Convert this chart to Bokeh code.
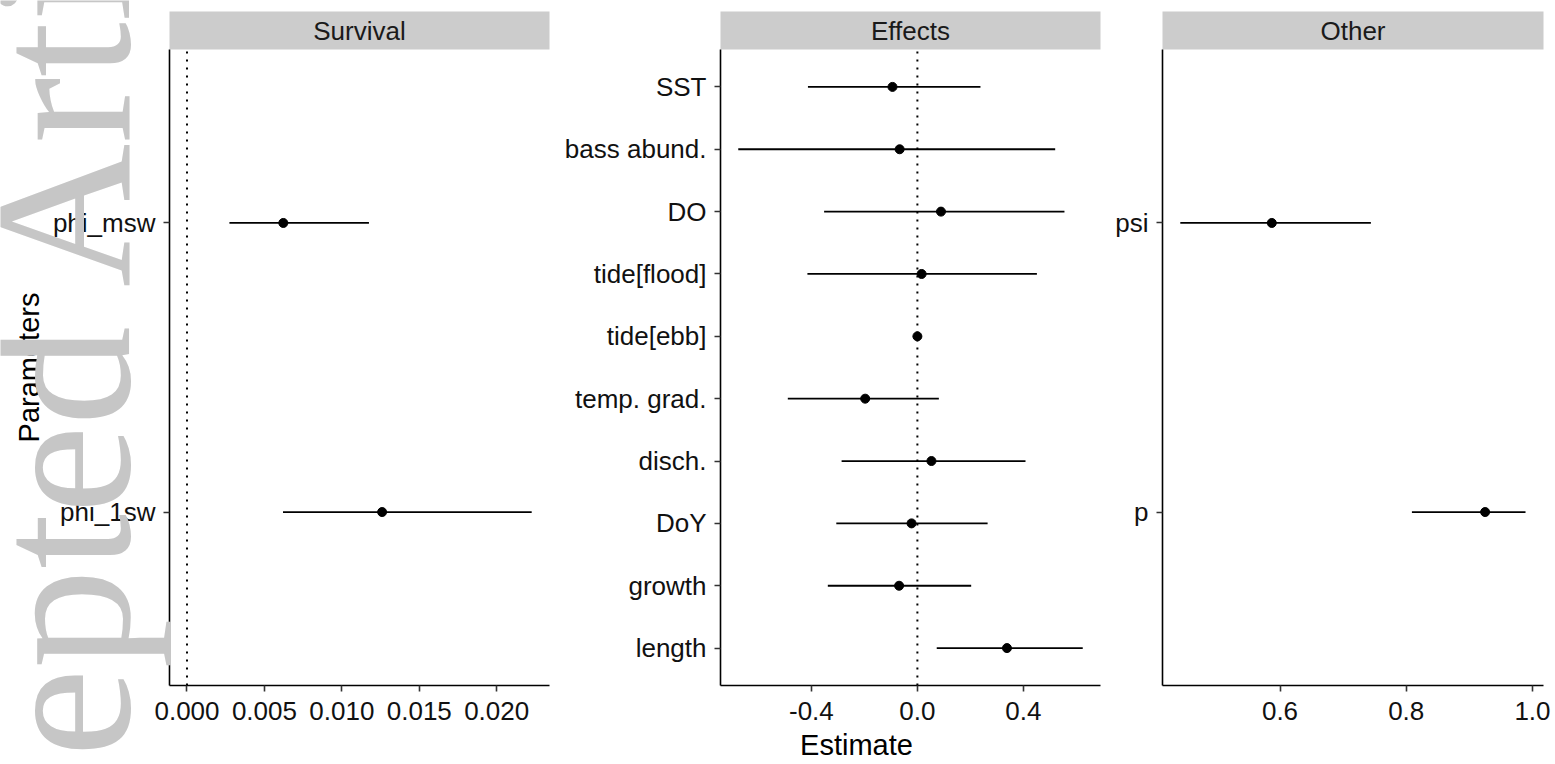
from bokeh.plotting import figure
from bokeh.layouts import row
from bokeh.models import Range1d, Label, FixedTicker, ColumnDataSource, BoxAnnotation
from bokeh.embed import file_html
from bokeh.resources import INLINE

# ---------------- data ----------------
survival_params = ["phi_msw", "phi_1sw"]
survival_est = [0.00622, 0.0126]
survival_lo = [0.00274, 0.0062]
survival_hi = [0.01175, 0.02226]

effects_params = ["SST", "bass abund.", "DO", "tide[flood]", "tide[ebb]",
                  "temp. grad.", "disch.", "DoY", "growth", "length"]
effects_est = [-0.094, -0.067, 0.089, 0.016, 0.0, -0.197, 0.053, -0.022, -0.069, 0.338]
effects_lo = [-0.413, -0.676, -0.352, -0.415, 0.0, -0.489, -0.286, -0.306, -0.338, 0.073]
effects_hi = [0.238, 0.520, 0.555, 0.451, 0.0, 0.081, 0.408, 0.265, 0.203, 0.624]

other_params = ["psi", "p"]
other_est = [0.587, 0.925]
other_lo = [0.442, 0.809]
other_hi = [0.744, 0.989]

panel_titles = ["Survival", "Effects", "Other"]
survival_ticks = [0.0, 0.005, 0.010, 0.015, 0.020]
survival_tick_labels = ["0.000", "0.005", "0.010", "0.015", "0.020"]
effects_ticks = [-0.4, 0.0, 0.4]
effects_tick_labels = ["-0.4", "0.0", "0.4"]
other_ticks = [0.6, 0.8, 1.0]
other_tick_labels = ["0.6", "0.8", "1.0"]

x_title = "Estimate"
y_title = "Parameters"
watermark = "Accepted Article"

# ---------------- layout constants (pixels) ----------------
FONT = "Liberation Sans"
TICK_SIZE = "26px"
H = 762                      # figure height
PANEL_TOP, PANEL_BOTTOM = 49, 685
STRIP_H = 38

columns = [
    dict(ox=0, width=560, left=169, right=549, xr=(-0.00113, 0.02341),
         params=survival_params, est=survival_est, lo=survival_lo, hi=survival_hi,
         ticks=survival_ticks, labels=survival_tick_labels, zero=True),
    dict(ox=560, width=550, left=720, right=1100, xr=(-0.743, 0.691),
         params=effects_params, est=effects_est, lo=effects_lo, hi=effects_hi,
         ticks=effects_ticks, labels=effects_tick_labels, zero=True),
    dict(ox=1110, width=443, left=1162, right=1543, xr=(0.4138, 1.0175),
         params=other_params, est=other_est, lo=other_lo, hi=other_hi,
         ticks=other_ticks, labels=other_tick_labels, zero=False),
]

figs = []
for title, c in zip(panel_titles, columns):
    n = len(c["params"])
    xlo, xhi = c["xr"]
    ylo, yhi = 0.4, n + 0.6                      # discrete-scale limits (ggplot style)
    ppx = (c["right"] - c["left"]) / (xhi - xlo)  # pixels per x unit
    ppy = (PANEL_BOTTOM - PANEL_TOP) / (yhi - ylo)
    x_start = xlo - (c["left"] - c["ox"]) / ppx
    x_end = xhi + (c["ox"] + c["width"] - c["right"]) / ppx
    y_start = ylo - (H - PANEL_BOTTOM) / ppy
    y_end = yhi + PANEL_TOP / ppy
    c.update(ppx=ppx, ppy=ppy, ylo=ylo, yhi=yhi)

    p = figure(width=c["width"], height=H, x_range=Range1d(x_start, x_end),
               y_range=Range1d(y_start, y_end),
               min_border_left=0, min_border_right=0, min_border_top=0, min_border_bottom=0,
               toolbar_location=None, output_backend="svg",
               outline_line_color=None, background_fill_color="white", border_fill_color="white")
    p.xgrid.visible = False
    p.ygrid.visible = False

    # facet strip
    p.add_layout(BoxAnnotation(left=xlo, right=xhi, bottom=yhi, top=yhi + STRIP_H / ppy,
                               fill_color="#cccccc", fill_alpha=1.0, line_color=None,
                               level="underlay"))
    p.add_layout(Label(x=(xlo + xhi) / 2, y=yhi + (STRIP_H / 2) / ppy, text=title,
                       text_align="center", text_baseline="middle",
                       text_font=FONT, text_font_size="26px", text_color="#1a1a1a"))

    # reference line at zero
    if c["zero"]:
        p.segment(x0=[0], x1=[0], y0=[ylo], y1=[yhi], line_color="black",
                  line_width=2, line_dash="2 6")

    ypos = [n - i for i in range(n)]
    src = ColumnDataSource(dict(param=c["params"], y=ypos, est=c["est"], lo=c["lo"], hi=c["hi"]))
    p.segment(x0="lo", x1="hi", y0="y", y1="y", source=src, line_color="black", line_width=1.8)
    p.scatter(x="est", y="y", source=src, size=9, color="black")

    xa = p.xaxis[0]
    ya = p.yaxis[0]
    xa.fixed_location = ylo
    xa.bounds = (xlo, xhi)
    ya.fixed_location = xlo
    ya.bounds = (ylo, yhi)
    xa.ticker = FixedTicker(ticks=c["ticks"])
    xa.major_label_overrides = {t: l for t, l in zip(c["ticks"], c["labels"])}
    ya.ticker = FixedTicker(ticks=ypos)
    ya.major_label_overrides = {y: name for y, name in zip(ypos, c["params"])}
    for ax in (xa, ya):
        ax.axis_line_color = "black"
        ax.axis_line_width = 1.6
        ax.major_tick_line_color = "#333333"
        ax.major_tick_line_width = 1.6
        ax.major_tick_out = 6
        ax.major_tick_in = 0
        ax.minor_tick_out = 0
        ax.minor_tick_in = 0
        ax.major_label_text_font = FONT
        ax.major_label_text_font_size = TICK_SIZE
        ax.major_label_text_color = "#111111"
    xa.major_label_standoff = 10
    ya.major_label_standoff = 8
    figs.append(p)

# global x title, centred under the whole set of panels
c2 = columns[1]
est_px = (columns[0]["left"] + columns[2]["right"]) / 2
figs[1].add_layout(Label(x=c2["xr"][0] + (est_px - c2["left"]) / c2["ppx"],
                         y=c2["ylo"] - (744 - PANEL_BOTTOM) / c2["ppy"],
                         text=x_title, text_align="center", text_baseline="middle",
                         text_font=FONT, text_font_size="29px", text_color="black"))

# y title and watermark on the first panel
c1 = columns[0]
figs[0].add_layout(Label(x=c1["xr"][0] - (c1["left"] - 28) / c1["ppx"],
                         y=c1["yhi"] - (367 - PANEL_TOP) / c1["ppy"],
                         text=y_title, angle=90, angle_units="deg",
                         text_align="center", text_baseline="middle",
                         text_font=FONT, text_font_size="29px", text_color="black"))
figs[0].add_layout(Label(x=c1["xr"][0] - (c1["left"] - 61) / c1["ppx"],
                         y=c1["yhi"] - (400 - PANEL_TOP) / c1["ppy"],
                         text=watermark, angle=90, angle_units="deg",
                         text_align="center", text_baseline="middle",
                         text_font="Liberation Serif", text_font_size="199px",
                         text_color="#c6c6c6"))

layout = row(*figs)
open("out.html", "w").write(file_html(layout, INLINE))
